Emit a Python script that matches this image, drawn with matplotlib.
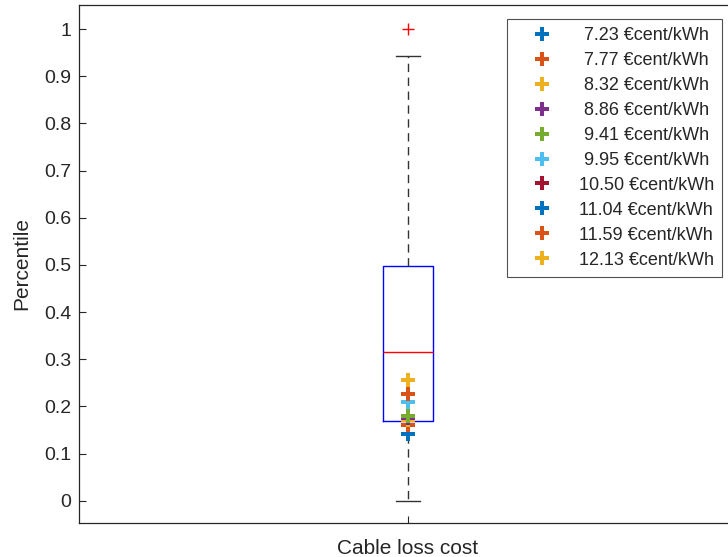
import matplotlib
matplotlib.use("Agg")
import matplotlib.pyplot as plt

plt.rcParams["font.family"] = ["Liberation Sans", "DejaVu Sans"]

# box statistics of the cable loss cost percentile
q1, med, q3 = 0.169, 0.316, 0.498
whis_lo, whis_hi = 0.0, 0.943
fliers = [1.0]

prices = [7.23, 7.77, 8.32, 8.86, 9.41, 9.95, 10.50, 11.04, 11.59, 12.13]
percentiles = [0.142, 0.161, 0.172, 0.176, 0.179, 0.210, 0.226, 0.227, 0.227, 0.256]
colors = ["#0072BD", "#D95319", "#EDB120", "#7E2F8E", "#77AC30",
          "#4DBEEE", "#A2142F", "#0072BD", "#D95319", "#EDB120"]

yticks = [0, 0.1, 0.2, 0.3, 0.4, 0.5, 0.6, 0.7, 0.8, 0.9, 1]
ytick_labels = ["0", "0.1", "0.2", "0.3", "0.4", "0.5", "0.6", "0.7", "0.8", "0.9", "1"]

W, H = 728, 557
fig = plt.figure(figsize=(W / 100, H / 100), dpi=100)
ax = fig.add_axes([79 / W, 34 / H, 658 / W, 518 / H])

stats = [dict(med=med, q1=q1, q3=q3, whislo=whis_lo, whishi=whis_hi, fliers=fliers)]
ax.bxp(stats, positions=[1], widths=0.076, capwidths=0.0365,
       boxprops=dict(color="#0000FF", lw=1.0),
       medianprops=dict(color="#FF0000", lw=1.0),
       whiskerprops=dict(color="#333333", lw=1.0, ls=(0, (6, 4))),
       capprops=dict(color="#333333", lw=1.0),
       flierprops=dict(marker="+", markeredgecolor="#FF0000", markersize=9, markeredgewidth=1.0))

for p, v, c in zip(prices, percentiles, colors):
    ax.plot([1], [v], "P", color=c, ms=10, mew=0, label=f"{p:5.2f} €cent/kWh", zorder=5)

ax.set_xlim(0.5, 1.5)
ax.set_ylim(-0.047, 1.051)
ax.set_xticks([1])
ax.set_xticklabels([""])
ax.set_yticks(yticks)
ax.set_yticklabels(ytick_labels)
ax.tick_params(direction="in", length=5, width=0.8, colors="#262626", labelsize=14)
ax.tick_params(axis="y", pad=5.5)
for s in ax.spines.values():
    s.set_color("#262626")
    s.set_linewidth(0.9)
ax.set_xlabel("Cable loss cost", fontsize=15, color="#262626", labelpad=8)
ax.set_ylabel("Percentile", fontsize=15, color="#262626", labelpad=9)

leg = ax.legend(loc="upper right", bbox_to_anchor=(722 / W, 1 - 19 / H),
                bbox_transform=fig.transFigure, fontsize=13, frameon=True,
                fancybox=False, edgecolor="#262626", handletextpad=0.6,
                labelspacing=0.44, borderpad=0.45, handlelength=2.9,
                borderaxespad=0)
leg.get_frame().set_linewidth(0.8)
for t in leg.get_texts():
    t.set_color("#262626")

fig.savefig("out.png", dpi=100)
